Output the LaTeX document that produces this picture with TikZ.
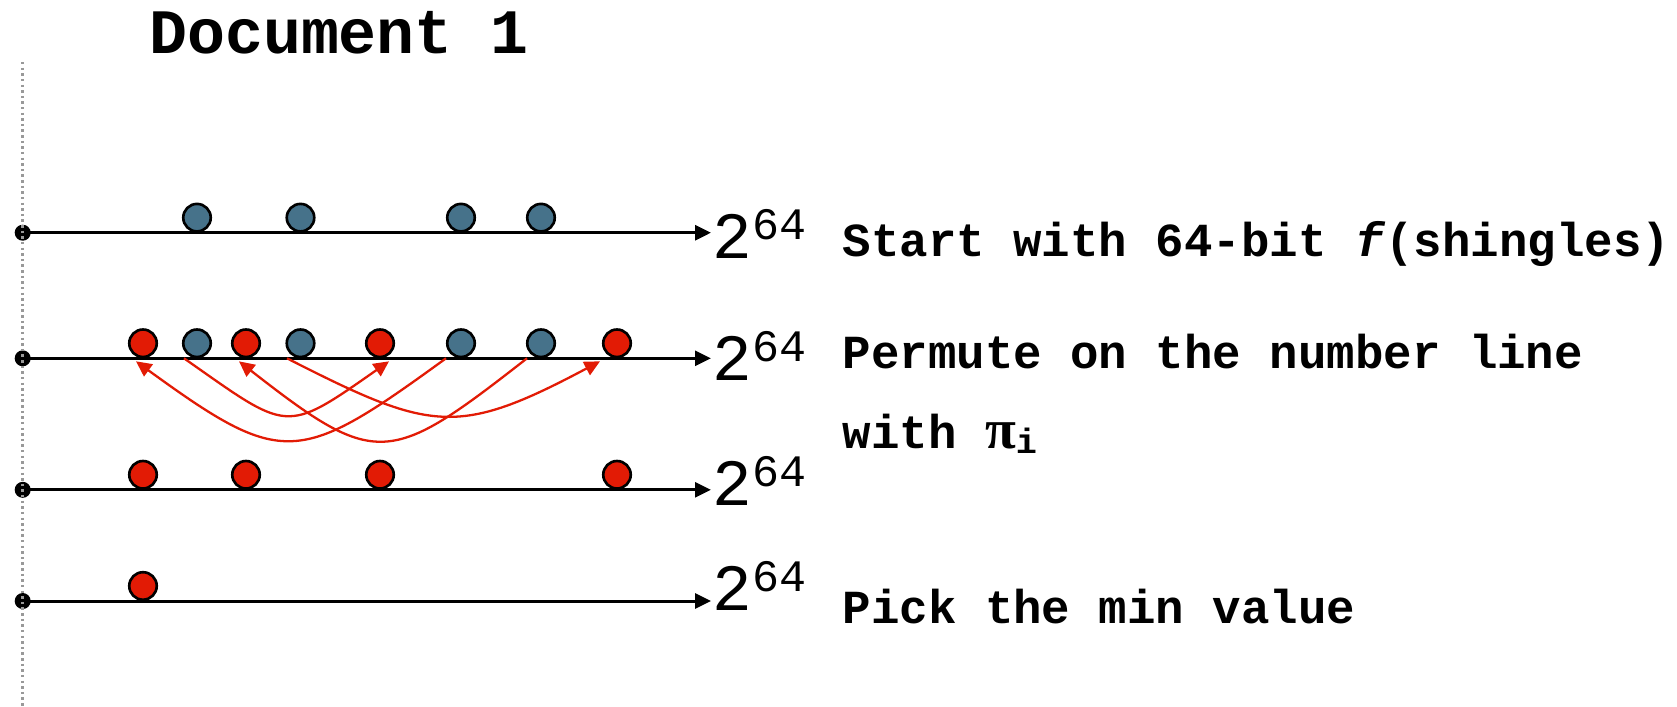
\documentclass[tikz,border=0pt]{standalone}
\usepackage{fontspec}
\setmonofont{Liberation Mono}
\newfontfamily\pifont{Liberation Serif}
\usetikzlibrary{arrows.meta, positioning}
\definecolor{dotblue}{RGB}{70,114,138}
\definecolor{dotred}{RGB}{226,27,5}
\newcommand{\powlabel}{2\raisebox{0.19cm}{\fontsize{12.8}{14}\selectfont 64}}
\tikzset{
  bluedot/.style={
    circle, draw=black, line width=0.75pt, fill=dotblue,
    minimum size=0.275cm, inner sep=0pt, anchor=south
  },
  reddot/.style={bluedot, fill=dotred},
  origin/.style={circle, fill=black, minimum size=0.16cm, inner sep=0pt},
  numline/.style={-{Triangle[length=4.5pt,width=4.2pt]}, line width=0.85pt},
  permarrow/.style={-{Triangle[length=4.4pt,width=4.2pt]}, line width=0.65pt, draw=dotred},
  pow/.style={font=\fontsize{18.8}{22}\selectfont\ttfamily, inner sep=0pt, anchor=base west},
  caption/.style={font=\fontsize{13.5}{16}\selectfont\ttfamily\bfseries, inner sep=0pt, anchor=base west},
  heading/.style={font=\fontsize{18}{22}\selectfont\ttfamily\bfseries, inner sep=0pt, anchor=base west},
  guide/.style={gray!80, line width=0.7pt, dash pattern=on 0.7pt off 0.9pt}
}

\begin{document}
\begin{tikzpicture}
  \useasboundingbox (0,0) rectangle (16.77,-7.06);

  % Title
  \node[heading] (title) at (1.485,-0.53) {Document 1};

  % Number lines
  \node[origin] (o1) at (0.227,-2.327) {};
  \node[origin] (o2) at (0.227,-3.583) {};
  \node[origin] (o3) at (0.227,-4.898) {};
  \node[origin] (o4) at (0.227,-6.01) {};
  \coordinate (e1) at (7.11,-2.327);
  \coordinate (e2) at (7.11,-3.583);
  \coordinate (e3) at (7.11,-4.898);
  \coordinate (e4) at (7.11,-6.01);
  \draw[numline] (o1.center) -- (e1);
  \draw[numline] (o2.center) -- (e2);
  \draw[numline] (o3.center) -- (e3);
  \draw[numline] (o4.center) -- (e4);

  \node[pow] (p1) at (7.12,-2.587) {\powlabel};
  \node[pow] (p2) at (7.12,-3.80) {\powlabel};
  \node[pow] (p3) at (7.12,-5.05) {\powlabel};
  \node[pow] (p4) at (7.12,-6.10) {\powlabel};

  % Row 1: shingles
  \node[bluedot] (b11) at (1.97,-2.327) {};
  \node[bluedot] (b12) at (3.005,-2.327) {};
  \node[bluedot] (b13) at (4.61,-2.327) {};
  \node[bluedot] (b14) at (5.41,-2.327) {};

  % Row 2: permuted
  \node[reddot] (r21) at (1.43,-3.583) {};
  \node[bluedot] (b21) at (1.97,-3.583) {};
  \node[reddot] (r22) at (2.46,-3.583) {};
  \node[bluedot] (b22) at (3.005,-3.583) {};
  \node[reddot] (r23) at (3.80,-3.583) {};
  \node[bluedot] (b23) at (4.61,-3.583) {};
  \node[bluedot] (b24) at (5.41,-3.583) {};
  \node[reddot] (r24) at (6.17,-3.583) {};

  \draw[permarrow] ([xshift=-1.3mm]b21.south) to[out=-35,in=-145,looseness=1.6]
    ([xshift=0.9mm,yshift=-0.3mm]r23.south);
  \draw[permarrow] ([xshift=-1.35mm]b22.south) to[out=-27,in=-152,looseness=1.32]
    ([xshift=-1.7mm,yshift=-0.3mm]r24.south);
  \draw[permarrow] ([xshift=-1.5mm]b23.south) to[out=-144,in=-36,looseness=1.5]
    ([xshift=-0.7mm,yshift=-0.3mm]r21.south);
  \draw[permarrow] ([xshift=-1.4mm]b24.south) to[out=-142,in=-38,looseness=1.55]
    ([xshift=-0.7mm,yshift=-0.3mm]r22.south);

  % Row 3: new values
  \node[reddot] (r31) at (1.43,-4.898) {};
  \node[reddot] (r32) at (2.46,-4.898) {};
  \node[reddot] (r33) at (3.80,-4.898) {};
  \node[reddot] (r34) at (6.17,-4.898) {};

  % Row 4: minimum
  \node[reddot] (r41) at (1.43,-6.01) {};

  % Captions
  \node[caption] (cap1) at (8.42,-2.567) {Start with 64-bit \textit{f}(shingles)};
  \node[caption] (cap2) at (8.42,-3.683) {Permute on the number line};
  \node[caption] (cap3) at (8.42,-4.483)
    {with {\pifont\fontsize{16}{16}\selectfont π}\raisebox{-0.05cm}{\fontsize{10}{10}\selectfont i}};
  \node[caption] (cap4) at (8.42,-6.233) {Pick the min value};

  % Guide
  \coordinate (gtop) at (0.227,-0.62);
  \coordinate (gbot) at (0.227,-7.06);
  \draw[guide] (gtop) -- (gbot);

\end{tikzpicture}
\end{document}
